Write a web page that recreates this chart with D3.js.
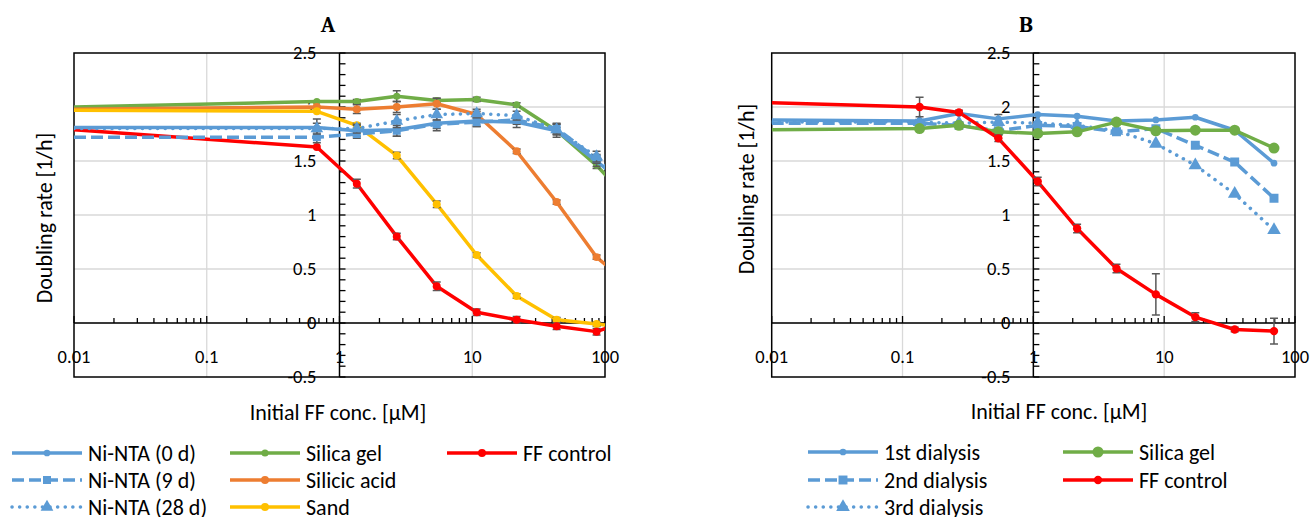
<!DOCTYPE html>
<html>
<head>
<meta charset="utf-8">
<script src="https://cdn.jsdelivr.net/npm/d3@7"></script>
<style>
  body { margin: 0; background: #fff; }
  text { font-family: Calibri, Carlito, Lato, sans-serif; fill: #000; }
  .panelTitle { font-family: Cambria, "Liberation Serif", serif; font-weight: bold; }
</style>
</head>
<body>
<div id="chart"></div>
<script>
// ---- data: panel A ----
var concA = [0.01, 0.675, 1.35, 2.7, 5.4, 10.8, 21.6, 43.2, 86.4, 172.8];
var niNta0d = [1.81, 1.81, 1.78, 1.79, 1.85, 1.87, 1.86, 1.78, 1.50, 1.19];
var niNta9d = [1.72, 1.72, 1.75, 1.78, 1.84, 1.86, 1.88, 1.80, 1.52, 1.21];
var niNta28d = [1.80, 1.80, 1.80, 1.87, 1.93, 1.94, 1.92, 1.79, 1.54, 1.23];
var silicaGelA = [2.00, 2.05, 2.05, 2.10, 2.06, 2.07, 2.02, 1.78, 1.46, 1.06];
var silicicAcid = [1.98, 2.00, 1.98, 2.00, 2.03, 1.93, 1.59, 1.12, 0.61, 0.30];
var sand = [1.97, 1.96, 1.83, 1.55, 1.10, 0.63, 0.25, 0.03, -0.01, -0.055];
var ffControlA = [1.79, 1.63, 1.29, 0.80, 0.34, 0.10, 0.03, -0.03, -0.08, 0.05];

var errNi0 = [0, 0.08, 0.05, 0.06, 0.07, 0.05, 0.05, 0.06, 0.05, 0];
var errNi9 = [0, 0.05, 0.04, 0.05, 0.04, 0.04, 0.04, 0.05, 0.04, 0];
var errNi28 = [0, 0.05, 0.04, 0.06, 0.05, 0.04, 0.04, 0.05, 0.05, 0];
var errSilicaA = [0, 0, 0.02, 0.05, 0.02, 0.02, 0.02, 0.03, 0.03, 0];
var errSilicic = [0, 0, 0.04, 0.05, 0.05, 0.03, 0.02, 0.02, 0.02, 0];
var errSand = [0, 0, 0.02, 0.03, 0.03, 0.02, 0.02, 0.02, 0.02, 0];
var errFFA = [0, 0, 0.04, 0.03, 0.04, 0.03, 0.03, 0.03, 0.03, 0];

// ---- data: panel B ----
var concB = [0.01, 0.135, 0.27, 0.54, 1.08, 2.16, 4.32, 8.64, 17.3, 34.6, 69.1];
var dialysis1 = [1.88, 1.87, 1.94, 1.89, 1.93, 1.915, 1.87, 1.88, 1.905, 1.785, 1.48];
var dialysis2 = [1.85, 1.85, 1.83, 1.78, 1.83, 1.82, 1.77, 1.80, 1.645, 1.49, 1.155];
var dialysis3 = [1.86, 1.86, 1.85, 1.86, 1.85, 1.83, 1.78, 1.66, 1.46, 1.195, 0.86];
var silicaGelB = [1.79, 1.80, 1.83, 1.77, 1.755, 1.77, 1.86, 1.78, 1.785, 1.785, 1.62];
var ffControlB = [2.04, 2.00, 1.95, 1.71, 1.31, 0.875, 0.505, 0.265, 0.055, -0.06, -0.075];

var errD1 = [0, 0, 0, 0.04, 0, 0, 0, 0, 0, 0, 0];
var errFFB = [0, 0.09, 0.02, 0.03, 0.04, 0.04, 0.04, 0.19, 0.04, 0.02, 0.12];

// ---- tick labels ----
var xTicks = [0.01, 0.1, 1, 10, 100];
var xTickLabels = ["0.01", "0.1", "1", "10", "100"];
var yTicks = [2.5, 2, 1.5, 1, 0.5, 0, -0.5];
var yTickLabels = ["2.5", "2", "1.5", "1", "0.5", "0", "-0.5"];

var blue = "#5b9bd5", green = "#70ad47", orange = "#ed7d31", yellow = "#ffc000", red = "#ff0000";

function zip(xs, ys, es) {
  return xs.map(function(x, i) { return { x: x, y: ys[i], e: es ? es[i] : 0 }; });
}

var seriesA = [
  { name: "Silica gel", color: green, dash: null, shape: "circle", size: 40, pts: zip(concA, silicaGelA, errSilicaA) },
  { name: "Silicic acid", color: orange, dash: null, shape: "circle", size: 50, pts: zip(concA, silicicAcid, errSilicic) },
  { name: "Sand", color: yellow, dash: null, shape: "circle", size: 50, pts: zip(concA, sand, errSand) },
  { name: "FF control", color: red, dash: null, shape: "circle", size: 50, pts: zip(concA, ffControlA, errFFA) },
  { name: "Ni-NTA (0 d)", color: blue, dash: null, shape: "circle", size: 35, pts: zip(concA, niNta0d, errNi0) },
  { name: "Ni-NTA (9 d)", color: blue, dash: "12 5", shape: "square", size: 64, pts: zip(concA, niNta9d, errNi9) },
  { name: "Ni-NTA (28 d)", color: blue, dash: "0.1 7.5", shape: "triangle", size: 70, pts: zip(concA, niNta28d, errNi28) }
];

var seriesB = [
  { name: "1st dialysis", color: blue, dash: null, shape: "circle", size: 35, pts: zip(concB, dialysis1, errD1) },
  { name: "2nd dialysis", color: blue, dash: "12 5", shape: "square", size: 80, pts: zip(concB, dialysis2) },
  { name: "3rd dialysis", color: blue, dash: "0.1 7.5", shape: "triangle", size: 80, pts: zip(concB, dialysis3) },
  { name: "Silica gel", color: green, dash: null, shape: "circle", size: 95, pts: zip(concB, silicaGelB) },
  { name: "FF control", color: red, dash: null, shape: "circle", size: 55, pts: zip(concB, ffControlB, errFFB) }
];

var legendA = [
  { s: "Ni-NTA (0 d)", col: 0, row: 0 }, { s: "Ni-NTA (9 d)", col: 0, row: 1 }, { s: "Ni-NTA (28 d)", col: 0, row: 2 },
  { s: "Silica gel", col: 1, row: 0 }, { s: "Silicic acid", col: 1, row: 1 }, { s: "Sand", col: 1, row: 2 },
  { s: "FF control", col: 2, row: 0 }
];
var legendB = [
  { s: "1st dialysis", col: 0, row: 0 }, { s: "2nd dialysis", col: 0, row: 1 }, { s: "3rd dialysis", col: 0, row: 2 },
  { s: "Silica gel", col: 1, row: 0 }, { s: "FF control", col: 1, row: 1 }
];

var svg = d3.select("#chart")
  .append("svg")
  .attr("width", 1314)
  .attr("height", 517);

var shapes = { circle: d3.symbolCircle, square: d3.symbolSquare, triangle: d3.symbolTriangle };

function drawPanel(p) {
  var x = d3.scaleLog().domain([0.01, 100]).range([p.left, p.right]);
  var y = d3.scaleLinear().domain([-0.5, 2.5]).range([377, 53]);
  var g = svg.append("g");

  var clipId = "clip" + p.id;
  svg.append("clipPath").attr("id", clipId)
    .append("rect")
    .attr("x", p.left).attr("y", 53)
    .attr("width", p.right - p.left).attr("height", 324);

  // gridlines
  g.selectAll(".hgrid").data(yTicks.slice(1, -1)).enter().append("line")
    .attr("x1", p.left).attr("x2", p.right)
    .attr("y1", d => y(d)).attr("y2", d => y(d))
    .attr("stroke", "#d9d9d9").attr("stroke-width", 1.3);
  g.selectAll(".vgrid").data([0.1, 10]).enter().append("line")
    .attr("x1", d => x(d)).attr("x2", d => x(d))
    .attr("y1", 53).attr("y2", 377)
    .attr("stroke", "#d9d9d9").attr("stroke-width", 1.3);

  // plot border
  g.append("rect")
    .attr("x", p.left).attr("y", 53)
    .attr("width", p.right - p.left).attr("height", 324)
    .attr("fill", "none").attr("stroke", "#000").attr("stroke-width", 1.5);

  // x axis at y = 0, with log minor ticks pointing up
  var xTickAll = x.ticks();
  g.append("line")
    .attr("x1", p.left).attr("x2", p.right)
    .attr("y1", y(0)).attr("y2", y(0))
    .attr("stroke", "#000").attr("stroke-width", 1.5);
  g.selectAll(".xtick").data(xTickAll).enter().append("line")
    .attr("x1", d => x(d)).attr("x2", d => x(d))
    .attr("y1", y(0))
    .attr("y2", d => xTicks.indexOf(d) >= 0 ? y(0) - 7 : y(0) - 5)
    .attr("stroke", "#000").attr("stroke-width", 1.3);
  g.selectAll(".xlab").data(xTicks).enter().append("text")
    .attr("x", d => x(d)).attr("y", 363)
    .attr("text-anchor", "middle")
    .attr("font-size", 18.5)
    .text((d, i) => xTickLabels[i]);

  // y axis at x = 1, minor ticks every 0.1 pointing right
  var yMinor = d3.range(-5, 26).map(d => d / 10);
  g.append("line")
    .attr("x1", x(1)).attr("x2", x(1))
    .attr("y1", 53).attr("y2", 377)
    .attr("stroke", "#000").attr("stroke-width", 1.5);
  g.selectAll(".ytick").data(yMinor).enter().append("line")
    .attr("x1", x(1)).attr("x2", x(1) + 6)
    .attr("y1", d => y(d)).attr("y2", d => y(d))
    .attr("stroke", "#000").attr("stroke-width", 1.3);
  g.selectAll(".ylab").data(yTicks).enter().append("text")
    .attr("x", x(1) - 23).attr("y", d => y(d))
    .attr("dy", "0.35em")
    .attr("text-anchor", "end")
    .attr("font-size", 18.5)
    .text((d, i) => yTickLabels[i]);

  // series lines
  var line = d3.line().x(d => x(d.x)).y(d => y(d.y));
  var lines = g.append("g").attr("clip-path", "url(#" + clipId + ")");
  p.series.forEach(function(s) {
    lines.append("path")
      .datum(s.pts)
      .attr("d", line)
      .attr("fill", "none")
      .attr("stroke", s.color)
      .attr("stroke-width", 3.5)
      .attr("stroke-linejoin", "round")
      .attr("stroke-linecap", s.dash && s.dash.indexOf("0.1") === 0 ? "round" : "butt")
      .attr("stroke-dasharray", s.dash);

    var visible = s.pts.filter(d => d.x > 0.01 && d.x <= 100);

    lines.selectAll(null).data(visible.filter(d => d.e > 0)).enter().append("path")
      .attr("d", function(d) {
        var cx = x(d.x), y1 = y(d.y + d.e), y2 = y(d.y - d.e);
        return "M" + (cx - 4) + "," + y1 + "H" + (cx + 4) +
               "M" + cx + "," + y1 + "V" + y2 +
               "M" + (cx - 4) + "," + y2 + "H" + (cx + 4);
      })
      .attr("fill", "none").attr("stroke", "#595959").attr("stroke-width", 1.5);

    lines.selectAll(null).data(visible).enter().append("path")
      .attr("d", d3.symbol().type(shapes[s.shape]).size(s.size))
      .attr("transform", d => "translate(" + x(d.x) + "," + y(d.y) + ")")
      .attr("fill", s.color);
  });

  // titles
  svg.append("text").attr("class", "panelTitle")
    .attr("x", p.titleX).attr("y", 32)
    .attr("text-anchor", "middle").attr("font-size", 22)
    .text(p.title);
  svg.append("text")
    .attr("x", p.xTitleX).attr("y", p.xTitleY)
    .attr("dy", "0.35em")
    .attr("text-anchor", "middle").attr("font-size", 22)
    .text("Initial FF conc. [µM]");
  svg.append("text")
    .attr("transform", "translate(" + p.yTitleX + "," + p.yTitleY + ") rotate(-90)")
    .attr("dy", "0.35em")
    .attr("text-anchor", "middle").attr("font-size", 22)
    .text("Doubling rate [1/h]");

  // legend
  var lg = svg.append("g");
  p.legend.forEach(function(item) {
    var s = p.series.filter(d => d.name === item.s)[0];
    var lx = p.legendCols[item.col], ly = p.legendRows[item.row];
    lg.append("line")
      .attr("x1", lx).attr("x2", lx + 70)
      .attr("y1", ly).attr("y2", ly)
      .attr("stroke", s.color).attr("stroke-width", 3.5)
      .attr("stroke-linecap", s.dash && s.dash.indexOf("0.1") === 0 ? "round" : "butt")
      .attr("stroke-dasharray", s.dash);
    lg.append("path")
      .attr("d", d3.symbol().type(shapes[s.shape]).size(s.size))
      .attr("transform", "translate(" + (lx + 35) + "," + ly + ")")
      .attr("fill", s.color);
    lg.append("text")
      .attr("x", lx + 76).attr("y", ly)
      .attr("dy", "0.35em")
      .attr("font-size", 22)
      .text(s.name);
  });
}

drawPanel({
  id: "A", title: "A", left: 74, right: 605, series: seriesA,
  titleX: 328, xTitleX: 338, xTitleY: 412, yTitleX: 44, yTitleY: 218,
  legend: legendA, legendCols: [12, 230, 447], legendRows: [453, 480, 507]
});

drawPanel({
  id: "B", title: "B", left: 771.7, right: 1295, series: seriesB,
  titleX: 1026, xTitleX: 1059, xTitleY: 411, yTitleX: 746, yTitleY: 189,
  legend: legendB, legendCols: [808, 1063], legendRows: [452, 480, 507]
});
</script>
</body>
</html>
